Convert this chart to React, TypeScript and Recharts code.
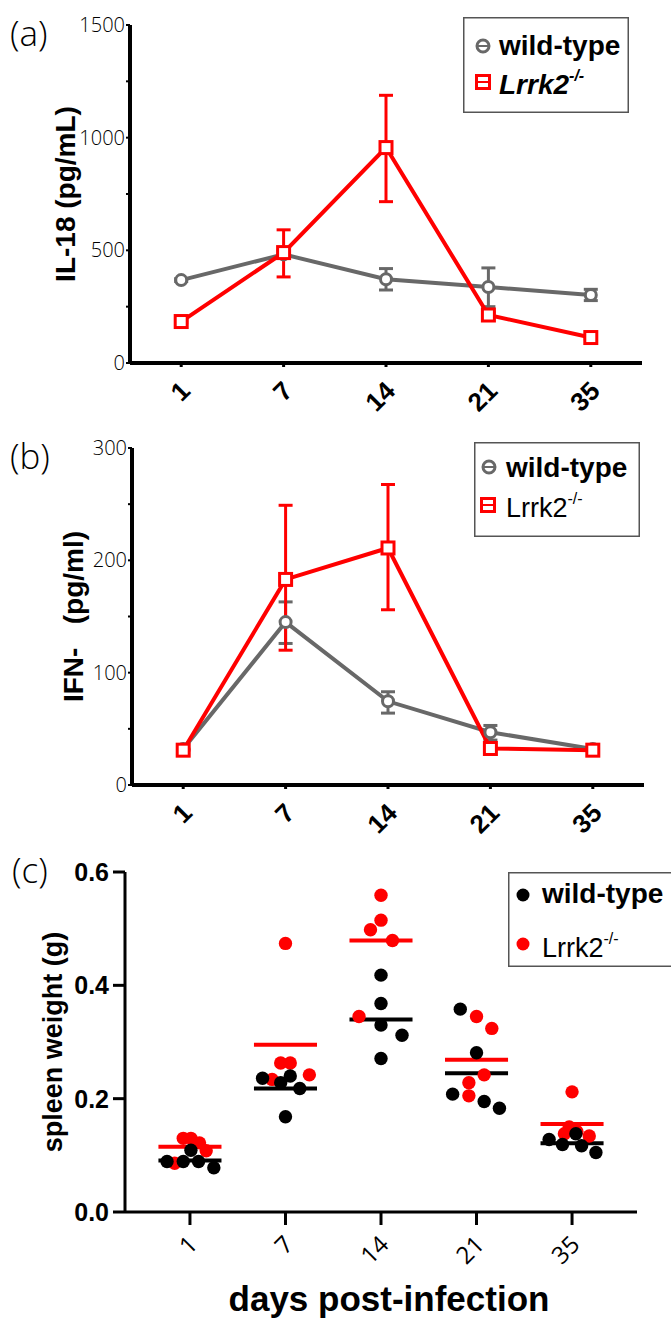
import React from "react";
import {
  LineChart,
  Line,
  XAxis,
  YAxis,
  ErrorBar,
  ScatterChart,
  Scatter,
  ReferenceLine,
} from "recharts";

const days = ["1", "7", "14", "21", "35"];

// (a) IL-18 (pg/mL), mean with [down, up] error
const il18Wt = [368, 482, 372, 337, 302];
const il18WtErr = [[6, 6], [18, 18], [48, 47], [87, 85], [25, 25]];
const il18Ko = [184, 490, 956, 213, 113];
const il18KoErr = [[6, 6], [108, 101], [240, 232], [12, 12], [6, 6]];

// (b) IFN-g (pg/ml)
const ifnWt = [32, 145, 74.5, 47, 32];
const ifnWtErr = [[0, 0], [19, 18], [10.5, 8.5], [7, 6], [0, 0]];
const ifnKo = [31, 183, 211, 32.5, 31];
const ifnKoErr = [[0, 0], [63, 66], [55, 56.5], [0, 0], [0, 0]];

// (c) spleen weight (g), one row per day
const spleenWt = [
  [0.089, 0.089, 0.109, 0.089, 0.078],
  [0.236, 0.228, 0.24, 0.218, 0.168],
  [0.418, 0.368, 0.33, 0.312, 0.271],
  [0.358, 0.281, 0.208, 0.195, 0.183],
  [0.128, 0.119, 0.138, 0.117, 0.105],
];
const spleenWtJitter = [
  [-0.24, -0.07, 0.01, 0.09, 0.25],
  [-0.24, -0.05, 0.05, 0.15, 0],
  [0, 0, 0, 0.22, 0],
  [-0.17, 0, -0.25, 0.08, 0.24],
  [-0.24, -0.1, 0.04, 0.1, 0.25],
];
const spleenKo = [
  [0.13, 0.13, 0.122, 0.108, 0.086],
  [0.474, 0.263, 0.263, 0.242, 0.234],
  [0.559, 0.515, 0.498, 0.479, 0.345],
  [0.345, 0.324, 0.242, 0.228, 0.205],
  [0.212, 0.134, 0.15, 0.142, 0.138],
];
const spleenKoJitter = [
  [-0.07, 0.01, 0.1, 0.17, -0.16],
  [0, -0.05, 0.05, 0.25, -0.14],
  [0, 0, -0.11, 0.12, -0.23],
  [0, 0.16, 0.08, -0.08, -0.08],
  [0, 0.18, -0.03, 0.05, -0.08],
];

const GRAY = "#686868";
const RED = "#ff0000";
const SANS = "'Liberation Sans', Arial, Helvetica, sans-serif";
const LIGHT = "'Open Sans', 'Noto Sans', sans-serif";

const lineRows = (wt: number[], wtErr: number[][], ko: number[], koErr: number[][]) =>
  days.map((d, i) => ({ x: i, day: d, wt: wt[i], wtErr: wtErr[i], ko: ko[i], koErr: koErr[i] }));

const il18Rows = lineRows(il18Wt, il18WtErr, il18Ko, il18KoErr);
const ifnRows = lineRows(ifnWt, ifnWtErr, ifnKo, ifnKoErr);

const points = (vals: number[][], jit: number[][]) =>
  vals.flatMap((row, i) => row.map((v, j) => ({ x: i + jit[i][j], y: v })));
const mean = (row: number[]) => row.reduce((a, b) => a + b, 0) / row.length;

const wtPoints = points(spleenWt, spleenWtJitter);
const koPoints = points(spleenKo, spleenKoJitter);

const circleDot = (p: any) => (
  <circle key={`c-${p.index}`} cx={p.cx} cy={p.cy} r={5.5} fill="#fff" stroke={GRAY} strokeWidth={3} />
);
const squareDot = (p: any) => (
  <rect key={`s-${p.index}`} x={p.cx - 6} y={p.cy - 6} width={12} height={12} fill="#fff" stroke={RED} strokeWidth={3} />
);
const filledDot = (color: string) => (p: any) => (
  <circle cx={p.cx} cy={p.cy} r={6.7} fill={color} />
);

function DayTick(props: any) {
  const { x, y, payload, dx, dy, bold, size } = props;
  return (
    <g transform={`translate(${x + dx},${y + dy}) rotate(-45)`}>
      <text
        textAnchor="end"
        dy="0.36em"
        fontFamily={bold ? SANS : LIGHT}
        fontWeight={bold ? 700 : 400}
        fontSize={size}
        fill="#000"
      >
        {days[payload.value]}
      </text>
    </g>
  );
}

const lightTick = { fontFamily: LIGHT, fontWeight: 300, fontSize: 20, fill: "#000" };

function LinePanel({ rows, max, step, label, labelOffset, top, marginTop, axisX, axisEnd, xHeight }: any) {
  const ticks: number[] = [];
  for (let v = 0; v <= max; v += step / 2) ticks.push(v);
  return (
    <div style={{ position: "absolute", left: 0, top }}>
      <LineChart
        width={671}
        height={420}
        data={rows}
        margin={{ top: marginTop, right: 671 - axisEnd, bottom: 0, left: 0 }}
      >
        <XAxis
          dataKey="x"
          type="number"
          domain={[-0.5, 4.5]}
          ticks={[0, 1, 2, 3, 4]}
          interval={0}
          height={xHeight}
          axisLine={{ stroke: "#000", strokeWidth: 4 }}
          tickLine={{ stroke: "#000", strokeWidth: 3 }}
          tickSize={4}
          tick={(p: any) => <DayTick {...p} dx={4} dy={17} bold size={26} />}
        />
        <YAxis
          type="number"
          domain={[0, max]}
          ticks={ticks}
          interval={0}
          width={axisX}
          axisLine={{ stroke: "#000", strokeWidth: 4 }}
          tickLine={{ stroke: "#000", strokeWidth: 2 }}
          tickSize={4}
          tickMargin={1}
          tick={lightTick}
          tickFormatter={(v: number) => (v % step === 0 ? String(v) : "")}
          label={{
            value: label,
            angle: -90,
            position: "insideLeft",
            offset: labelOffset,
            style: { textAnchor: "middle", fontFamily: SANS, fontWeight: 700, fontSize: 28, fill: "#000" },
          }}
        />
        <Line dataKey="wt" stroke={GRAY} strokeWidth={4} dot={circleDot} isAnimationActive={false}>
          <ErrorBar dataKey="wtErr" direction="y" width={7} stroke={GRAY} strokeWidth={3} />
        </Line>
        <Line dataKey="ko" stroke={RED} strokeWidth={4} dot={squareDot} isAnimationActive={false}>
          <ErrorBar dataKey="koErr" direction="y" width={7} stroke={RED} strokeWidth={3} />
        </Line>
      </LineChart>
    </div>
  );
}

function LineLegend({ left, top, width, height, italicBold, rowY, textX, baselines, koSize }: any) {
  return (
    <svg style={{ position: "absolute", left, top }} width={width} height={height}>
      <rect x={0.75} y={0.75} width={width - 1.5} height={height - 1.5} fill="#fff" stroke="#555" strokeWidth={1.5} />
      <circle cx={rowY[0][0]} cy={rowY[0][1]} r={6} fill="#fff" stroke={GRAY} strokeWidth={3} />
      <line x1={rowY[0][0] - 5} x2={rowY[0][0] + 5} y1={rowY[0][1]} y2={rowY[0][1]} stroke={GRAY} strokeWidth={2} />
      <text x={textX} y={baselines[0]} fontFamily={SANS} fontWeight={700} fontSize={28} fill="#000">
        wild-type
      </text>
      <rect x={rowY[1][0] - 6.5} y={rowY[1][1] - 6.5} width={13} height={13} fill="#fff" stroke={RED} strokeWidth={3} />
      <line x1={rowY[1][0] - 5} x2={rowY[1][0] + 5} y1={rowY[1][1]} y2={rowY[1][1]} stroke={RED} strokeWidth={2} />
      <text
        x={textX}
        y={baselines[1]}
        fontFamily={SANS}
        fontWeight={italicBold ? 700 : 400}
        fontStyle={italicBold ? "italic" : "normal"}
        fontSize={koSize}
        fill="#000"
      >
        Lrrk2
        <tspan fontSize={16} dy={-13}>-/-</tspan>
      </text>
    </svg>
  );
}

export default function App() {
  return (
    <div style={{ position: "relative", width: 671, height: 1319, background: "#fff", overflow: "hidden" }}>
      <style>{"body{margin:0}"}</style>

      <LinePanel
        rows={il18Rows}
        max={1500}
        step={500}
        label="IL-18 (pg/mL)"
        labelOffset={65}
        top={0}
        marginTop={25}
        axisX={130}
        axisEnd={642}
        xHeight={57}
      />
      <LinePanel
        rows={ifnRows}
        max={300}
        step={100}
        label={"IFN-\u00a0\u00a0\u00a0(pg/ml)"}
        labelOffset={73}
        top={420}
        marginTop={28}
        axisX={132}
        axisEnd={644}
        xHeight={55}
      />

      <div style={{ position: "absolute", left: 0, top: 840 }}>
        <ScatterChart width={671} height={479} margin={{ top: 32, right: 34, bottom: 47, left: 0 }}>
          <XAxis
            dataKey="x"
            type="number"
            domain={[-0.68, 4.68]}
            ticks={[0, 1, 2, 3, 4]}
            interval={0}
            height={60}
            axisLine={{ stroke: "#000", strokeWidth: 3 }}
            tickLine={{ stroke: "#000", strokeWidth: 3 }}
            tickSize={13}
            tick={(p: any) => <DayTick {...p} dx={3} dy={13} size={24} />}
          />
          <YAxis
            dataKey="y"
            type="number"
            domain={[0, 0.6]}
            ticks={[0, 0.2, 0.4, 0.6]}
            interval={0}
            width={125}
            axisLine={{ stroke: "#000", strokeWidth: 3 }}
            tickLine={{ stroke: "#000", strokeWidth: 3 }}
            tickSize={12}
            tickMargin={4}
            tick={{ fontFamily: SANS, fontWeight: 700, fontSize: 25, fill: "#000" }}
            tickFormatter={(v: number) => v.toFixed(1)}
            label={{
              value: "spleen weight (g)",
              angle: -90,
              position: "insideLeft",
              offset: 52,
              style: { textAnchor: "middle", fontFamily: SANS, fontWeight: 700, fontSize: 27, fill: "#000" },
            }}
          />
          <Scatter data={koPoints} fill={RED} shape={filledDot(RED)} isAnimationActive={false} />
          <Scatter data={wtPoints} fill="#000" shape={filledDot("#000")} isAnimationActive={false} />
          {spleenKo.map((row, i) => (
            <ReferenceLine
              key={`km-${i}`}
              segment={[
                { x: i - 0.33, y: mean(row) },
                { x: i + 0.33, y: mean(row) },
              ]}
              stroke={RED}
              strokeWidth={4}
            />
          ))}
          {spleenWt.map((row, i) => (
            <ReferenceLine
              key={`wm-${i}`}
              segment={[
                { x: i - 0.33, y: mean(row) },
                { x: i + 0.33, y: mean(row) },
              ]}
              stroke="#000"
              strokeWidth={4}
            />
          ))}
        </ScatterChart>
      </div>

      <LineLegend
        left={463}
        top={17}
        width={166}
        height={96}
        italicBold
        rowY={[[20, 29], [20, 65]]}
        textX={36}
        baselines={[38, 77]}
        koSize={28}
      />
      <LineLegend
        left={474}
        top={442}
        width={166}
        height={95}
        rowY={[[15, 25], [14, 63]]}
        textX={32}
        baselines={[35, 75]}
        koSize={27}
      />

      <svg style={{ position: "absolute", left: 508, top: 872 }} width={170} height={95}>
        <rect x={0.75} y={0.75} width={175} height={93.5} fill="#fff" stroke="#555" strokeWidth={1.5} />
        <circle cx={15} cy={23} r={6.5} fill="#000" />
        <text x={34} y={31} fontFamily={SANS} fontWeight={700} fontSize={28} fill="#000">
          wild-type
        </text>
        <circle cx={15} cy={72} r={6.5} fill={RED} />
        <text x={34} y={85} fontFamily={SANS} fontWeight={400} fontSize={27} fill="#000">
          Lrrk2
          <tspan fontSize={16} dy={-13}>-/-</tspan>
        </text>
      </svg>

      <svg style={{ position: "absolute", left: 0, top: 0, pointerEvents: "none" }} width={671} height={1319}>
        <g fontFamily={LIGHT} fontWeight={300} fontSize={35} fill="#000">
          <text x={10} y={46}>(a)</text>
          <text x={10} y={469}>(b)</text>
          <text x={12} y={883}>(c)</text>
        </g>
        <text x={389} y={1311} textAnchor="middle" fontFamily={SANS} fontWeight={700} fontSize={35} fill="#000">
          days post-infection
        </text>
      </svg>
    </div>
  );
}
